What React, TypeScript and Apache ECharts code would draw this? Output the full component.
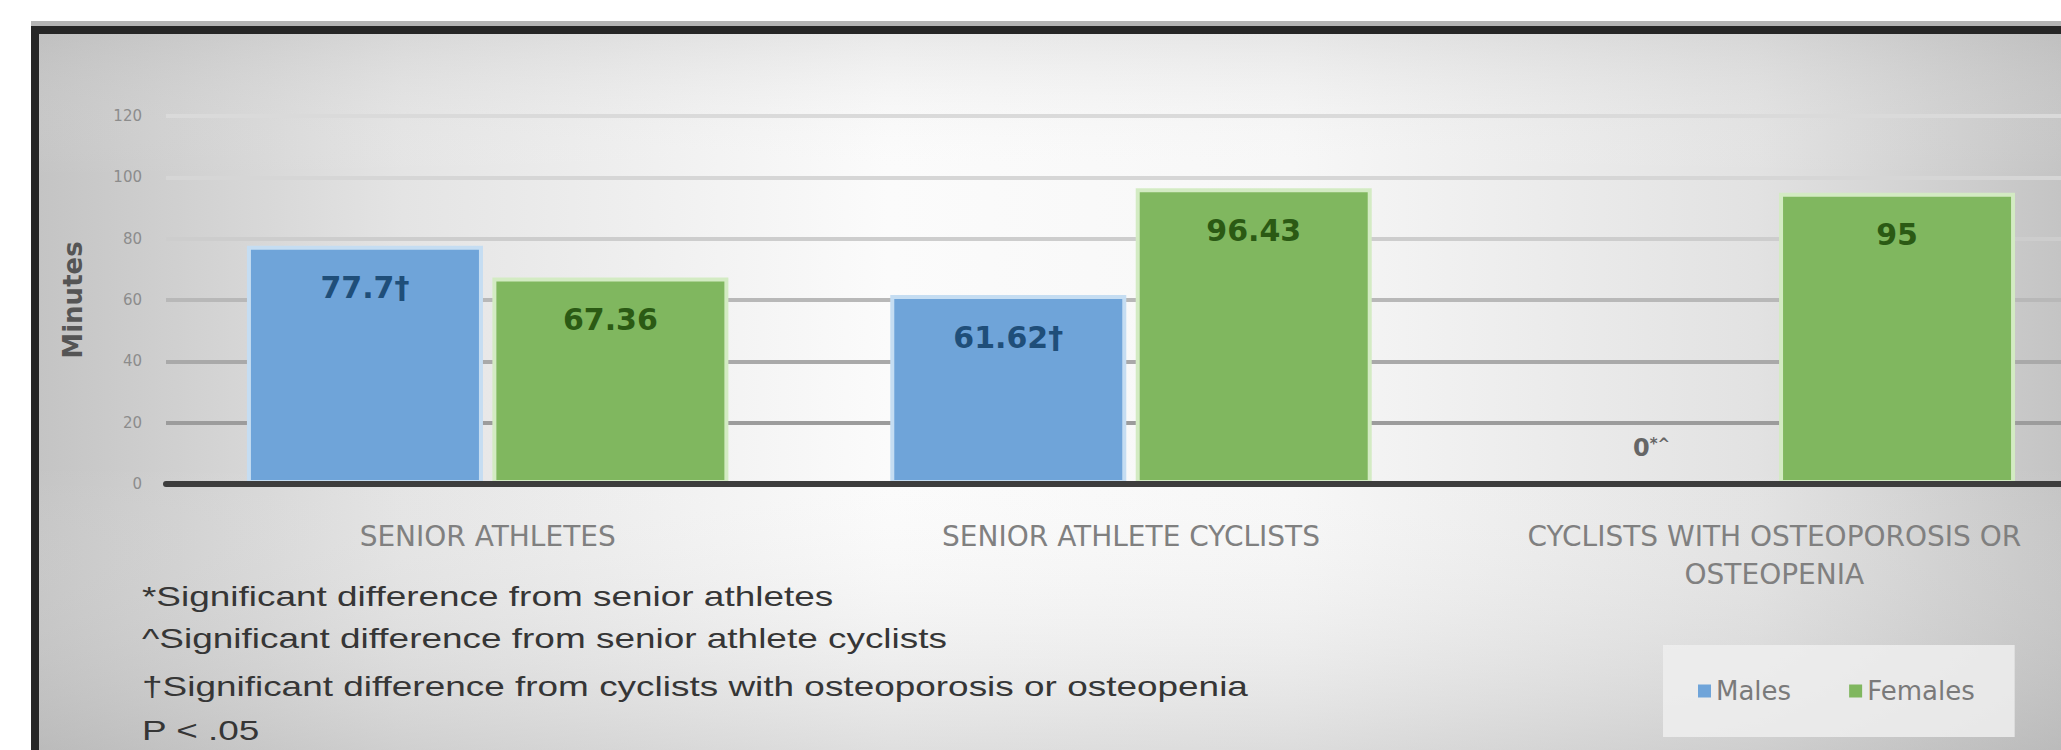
import React, { useEffect, useRef } from 'react';
import * as echarts from 'echarts';

const categories = [
  'SENIOR ATHLETES',
  'SENIOR ATHLETE CYCLISTS',
  'CYCLISTS WITH OSTEOPOROSIS OR\nOSTEOPENIA',
];
const seriesNames = ['Males', 'Females'];
const malesValues = [77.7, 61.62, 0];
const femalesValues = [67.36, 96.43, 95];
const malesLabels = ['77.7†', '61.62†', '0*^'];
const femalesLabels = ['67.36', '96.43', '95'];
const yMin = 0;
const yMax = 120;
const yStep = 20;
const axisName = 'Minutes';
const footnotes = [
  '*Significant difference from senior athletes',
  '^Significant difference from senior athlete cyclists',
  '†Significant difference from cyclists with osteoporosis or osteopenia',
  'P < .05',
];

const FONT = 'DejaVu Sans';
const CHART_W = 2100;

export default function App() {
  const ref = useRef<HTMLDivElement>(null);

  useEffect(() => {
    if (!ref.current) return;
    const chart = echarts.init(ref.current, null, { renderer: 'svg' });

    const maleData = malesValues.map((v, i) => {
      if (v === 0) {
        const m = malesLabels[i].match(/^([\d.]+)(.*)$/);
        const num = m ? m[1] : malesLabels[i];
        const sup = m ? m[2] : '';
        return {
          value: v,
          label: {
            position: 'top',
            distance: 22,
            formatter: `{n|${num}}{s|${sup}}`,
            rich: {
              n: { fontSize: 24, color: '#666666', fontFamily: FONT },
              s: { fontSize: 15, color: '#666666', fontFamily: FONT, verticalAlign: 'top' },
            },
          },
        };
      }
      return { value: v };
    });

    const footY = [596, 638, 686, 730];

    const option: any = {
      animation: false,
      graphic: [
        {
          type: 'rect',
          z: -30,
          shape: { x: 31, y: 21, width: CHART_W, height: 9 },
          style: { fill: '#b4b4b4' },
        },
        {
          type: 'rect',
          z: -29,
          shape: { x: 31, y: 26, width: CHART_W, height: 800 },
          style: { fill: '#262626' },
        },
        {
          type: 'rect',
          z: -28,
          shape: { x: 39, y: 34, width: 2022, height: 716 },
          style: {
            fill: new echarts.graphic.LinearGradient(0, 0, 1, 0, [
              { offset: 0, color: '#c4c4c4' },
              { offset: 0.18, color: '#e4e4e4' },
              { offset: 0.42, color: '#fbfbfb' },
              { offset: 0.62, color: '#f7f7f7' },
              { offset: 0.85, color: '#e2e2e2' },
              { offset: 1, color: '#c4c4c4' },
            ]),
          },
        },
        {
          type: 'rect',
          z: -27,
          shape: { x: 39, y: 34, width: 2022, height: 716 },
          style: {
            fill: new echarts.graphic.LinearGradient(0, 0, 0, 1, [
              { offset: 0, color: 'rgba(180,180,180,0.25)' },
              { offset: 0.2, color: 'rgba(255,255,255,0)' },
              { offset: 0.6, color: 'rgba(255,255,255,0)' },
              { offset: 1, color: 'rgba(170,170,170,0.35)' },
            ]),
          },
        },
        ...footnotes.map((t, i) => ({
          type: 'text',
          z: 50,
          x: 142,
          y: footY[i],
          scaleX: 1.32,
          style: {
            text: t,
            fontSize: 28,
            fontFamily: 'Liberation Sans',
            fill: '#363636',
            align: 'left',
            verticalAlign: 'middle',
          },
        })),
      ],
      legend: {
        data: seriesNames,
        left: 1663,
        top: 645,
        padding: [33, 40, 33, 35],
        itemGap: 58,
        itemWidth: 13,
        itemHeight: 13,
        icon: 'rect',
        backgroundColor: 'rgba(238,238,238,0.85)',
        itemStyle: { borderWidth: 0 },
        textStyle: { fontSize: 26, color: '#7a7a7a', fontFamily: FONT },
      },
      grid: { left: 166, right: CHART_W - 166 - 1930, top: 116, bottom: 266, containLabel: false },
      xAxis: {
        type: 'category',
        data: categories,
        z: 5,
        axisLine: { lineStyle: { color: '#3d3d3d', width: 6 } },
        axisTick: { show: false },
        axisLabel: {
          interval: 0,
          margin: 33,
          fontSize: 28,
          lineHeight: 38,
          color: '#808080',
          fontFamily: FONT,
        },
      },
      yAxis: {
        type: 'value',
        min: yMin,
        max: yMax,
        interval: yStep,
        name: axisName,
        nameLocation: 'middle',
        nameGap: 80,
        nameTextStyle: { fontSize: 26, fontWeight: 'bold', color: '#555555', fontFamily: FONT },
        axisLine: { show: false },
        axisTick: { show: false },
        axisLabel: { fontSize: 15, color: '#8c8c8c', margin: 24, fontFamily: FONT },
        splitLine: {
          lineStyle: {
            color: ['#555555', '#9c9c9c', '#a9a9a9', '#b8b8b8', '#cdcdcd', '#d6d6d6', '#dadada'],
            width: 4,
          },
        },
      },
      series: [
        {
          name: seriesNames[0],
          type: 'bar',
          data: maleData,
          barWidth: 236,
          barGap: '4%',
          itemStyle: { color: '#6fa4d9', borderColor: '#c5ddf2', borderWidth: 4 },
          label: {
            show: true,
            position: 'insideTop',
            distance: 27,
            fontSize: 30,
            fontWeight: 'bold',
            color: '#1f4e79',
            fontFamily: FONT,
            formatter: (p: any) => malesLabels[p.dataIndex],
          },
        },
        {
          name: seriesNames[1],
          type: 'bar',
          data: femalesValues,
          barWidth: 236,
          barGap: '4%',
          itemStyle: { color: '#80b75f', borderColor: '#d3ebc3', borderWidth: 4 },
          label: {
            show: true,
            position: 'insideTop',
            distance: 27,
            fontSize: 30,
            fontWeight: 'bold',
            color: '#2b5a14',
            fontFamily: FONT,
            formatter: (p: any) => femalesLabels[p.dataIndex],
          },
        },
      ],
    };

    chart.setOption(option);
    return () => {
      chart.dispose();
    };
  }, []);

  return (
    <div
      style={{
        position: 'fixed',
        left: 0,
        top: 0,
        width: 2061,
        height: 750,
        overflow: 'hidden',
        background: '#ffffff',
      }}
    >
      <div ref={ref} style={{ width: CHART_W, height: 750 }} />
    </div>
  );
}
